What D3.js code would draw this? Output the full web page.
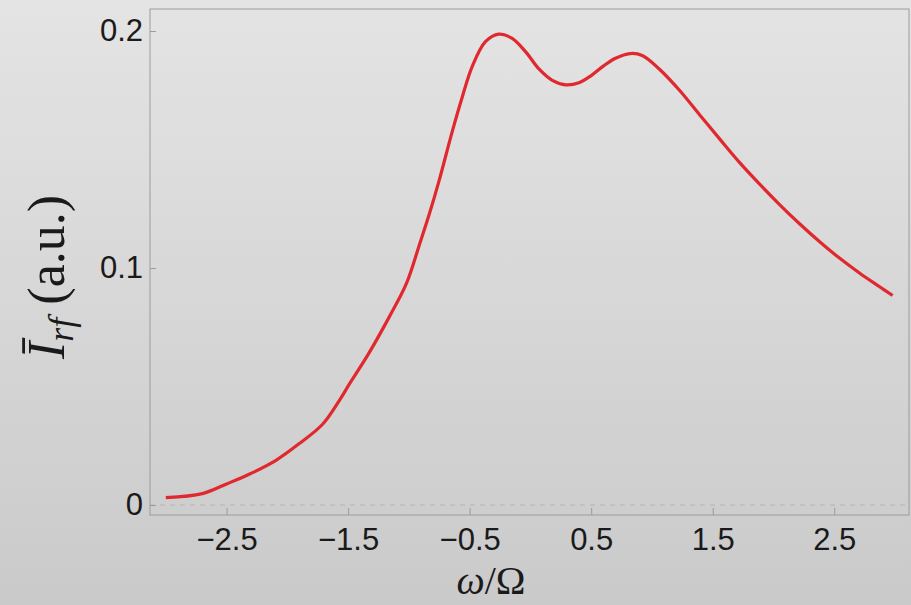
<!DOCTYPE html>
<html>
<head>
<meta charset="utf-8">
<script src="https://cdn.jsdelivr.net/npm/d3@7/dist/d3.min.js"></script>
<style>
  html, body { margin: 0; padding: 0; background: #d8d8d8; }
  svg { display: block; }
</style>
</head>
<body>
<svg id="chart" width="911" height="605"></svg>
<script>
// Normalised frequency ω/Ω and the averaged rf intensity (a.u.)
const omega = [-3.0, -2.7, -2.5, -2.31, -2.09, -1.9, -1.71, -1.57, -1.49, -1.33, -1.16, -1.02,
  -0.91, -0.83, -0.75, -0.64, -0.56, -0.48, -0.37, -0.26, -0.15, -0.04, 0.07, 0.18, 0.29,
  0.40, 0.50, 0.60, 0.70, 0.82, 0.92, 1.06, 1.23, 1.39, 1.56, 1.72, 1.89, 2.05, 2.21, 2.38,
  2.54, 2.71, 2.87, 2.98];
const intensity = [0.0031, 0.0048, 0.0089, 0.0131, 0.0190, 0.0260, 0.0341, 0.0443, 0.0510,
  0.0640, 0.0795, 0.0935, 0.1104, 0.1231, 0.1371, 0.1582, 0.1723, 0.1849, 0.1955, 0.1987,
  0.1969, 0.1913, 0.1840, 0.1792, 0.1773, 0.1782, 0.1812, 0.1852, 0.1885, 0.1905, 0.1897,
  0.1840, 0.1748, 0.1648, 0.1543, 0.1446, 0.1352, 0.1268, 0.1189, 0.1111, 0.1043, 0.0978,
  0.0922, 0.0884];
const xTicks = [-2.5, -1.5, -0.5, 0.5, 1.5, 2.5];
const xTickLabels = ["\u22122.5", "\u22121.5", "\u22120.5", "0.5", "1.5", "2.5"];
const yTicks = [0, 0.1, 0.2];
const yTickLabels = ["0", "0.1", "0.2"];

const svg = d3.select("#chart");
const W = 911, H = 605;
const frame = { left: 150, right: 909, top: 9, bottom: 515 };

// page background: soft vertical grey gradient
const defs = svg.append("defs");
const grad = defs.append("linearGradient").attr("id", "bg")
  .attr("x1", 0).attr("y1", 0).attr("x2", 0).attr("y2", 1);
grad.append("stop").attr("offset", "0%").attr("stop-color", "#e4e4e4");
grad.append("stop").attr("offset", "100%").attr("stop-color", "#cacaca");
svg.append("rect").attr("width", W).attr("height", H).attr("fill", "url(#bg)");

const x = d3.scaleLinear().domain([-3.13, 3.115]).range([frame.left, frame.right]);
const y = d3.scaleLinear().domain([-0.0042, 0.2093]).range([frame.bottom, frame.top]);

// dashed zero reference line
svg.append("line")
  .attr("x1", frame.left).attr("x2", frame.right)
  .attr("y1", y(0)).attr("y2", y(0))
  .attr("stroke", "#b4b4b4").attr("stroke-width", 1)
  .attr("stroke-dasharray", "5,5");

const tickFont = "'Liberation Sans', Arial, sans-serif";

// bottom axis: inward ticks, labels below
const xAxis = d3.axisBottom(x).tickValues(xTicks).tickSize(-7).tickPadding(14)
  .tickFormat((d, i) => xTickLabels[i]);
const gx = svg.append("g").attr("transform", `translate(0,${frame.bottom})`).call(xAxis);
gx.select(".domain").remove();
gx.selectAll(".tick line").attr("stroke", "#9a9a9a");
gx.selectAll(".tick text")
  .attr("fill", "#1a1a1a")
  .style("font-family", tickFont)
  .style("font-size", "31px")
  .attr("dy", "0.69em");

// left axis: inward ticks, labels to the left
const yAxis = d3.axisLeft(y).tickValues(yTicks).tickSize(-6).tickPadding(7)
  .tickFormat((d, i) => yTickLabels[i]);
const gy = svg.append("g").attr("transform", `translate(${frame.left},0)`).call(yAxis);
gy.select(".domain").remove();
gy.selectAll(".tick line").attr("stroke", "#9a9a9a");
gy.selectAll(".tick text")
  .attr("fill", "#1a1a1a")
  .style("font-family", tickFont)
  .style("font-size", "31px");

// plot frame
svg.append("rect")
  .attr("x", frame.left).attr("y", frame.top)
  .attr("width", frame.right - frame.left).attr("height", frame.bottom - frame.top)
  .attr("fill", "none").attr("stroke", "#9c9c9c").attr("stroke-width", 1);

// intensity curve
const pts = omega.map((w, i) => [w, intensity[i]]);
const line = d3.line().x(d => x(d[0])).y(d => y(d[1])).curve(d3.curveCatmullRom.alpha(0.5));
svg.append("path").datum(pts)
  .attr("d", line)
  .attr("fill", "none")
  .attr("stroke", "#e0282f")
  .attr("stroke-width", 3.2)
  .attr("stroke-linejoin", "round");

// axis titles
svg.append("text")
  .attr("x", 491).attr("y", 594)
  .attr("text-anchor", "middle")
  .style("font-family", "'Liberation Serif', 'Times New Roman', serif")
  .style("font-size", "40px")
  .attr("fill", "#1a1a1a")
  .html('<tspan font-style="italic">\u03C9</tspan>/\u03A9');

const yl = svg.append("text")
  .attr("transform", "translate(64,277) rotate(-90)")
  .attr("text-anchor", "middle")
  .style("font-family", "'Liberation Serif', 'Times New Roman', serif")
  .style("font-size", "52px")
  .attr("fill", "#1a1a1a");
yl.append("tspan").attr("font-style", "italic").text("\u012A");
yl.append("tspan").attr("font-style", "italic").attr("font-size", "36px").attr("dy", 9).text("rf");
yl.append("tspan").attr("dy", -9).text(" (a.u.)");
</script>
</body>
</html>
